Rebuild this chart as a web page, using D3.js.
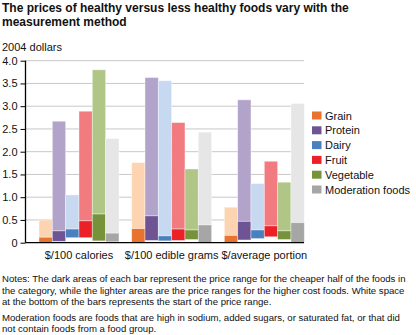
<!DOCTYPE html>
<html>
<head>
<meta charset="utf-8">
<script src="https://cdn.jsdelivr.net/npm/d3@7"></script>
<style>
  html, body { margin: 0; padding: 0; background: #fff; }
  svg { display: block; font-family: "Liberation Sans", Arial, Helvetica, sans-serif; }
</style>
</head>
<body>
<svg id="chart" width="416" height="335"></svg>
<script>
// Measurement methods (x groups) and food categories (bars within each group)
const methods = ["$/100 calories", "$/100 edible grams", "$/average portion"];
const categories = ["Grain", "Protein", "Dairy", "Fruit", "Vegetable", "Moderation foods"];

// Price range per category, one array per method, in category order (2004 dollars)
// start: lowest price; mid: top of cheaper half; max: highest price
const startCalories = [0.00, 0.03, 0.11, 0.11, 0.04, 0.02];
const midCalories   = [0.12, 0.26, 0.30, 0.48, 0.63, 0.21];
const maxCalories   = [0.50, 2.67, 1.05, 2.89, 3.80, 2.29];

const startGrams = [0.00, 0.05, 0.04, 0.05, 0.07, 0.00];
const midGrams   = [0.31, 0.59, 0.15, 0.30, 0.28, 0.39];
const maxGrams   = [1.76, 3.63, 3.56, 2.64, 1.62, 2.43];

const startPortion = [0.00, 0.06, 0.09, 0.13, 0.07, 0.00];
const midPortion   = [0.16, 0.47, 0.28, 0.37, 0.26, 0.44];
const maxPortion   = [0.78, 3.14, 1.30, 1.79, 1.33, 3.06];

const yTicks = [0, 0.5, 1.0, 1.5, 2.0, 2.5, 3.0, 3.5, 4.0];

const darkColors  = ["#E8732F", "#6E5495", "#4A80C0", "#EC2027", "#76923B", "#A6A6A6"];
const lightColors = ["#FDD4B1", "#B2A3CA", "#C6D9F0", "#F27B80", "#AFC686", "#E6E6E6"];

const ranges = [
  { start: startCalories, mid: midCalories, max: maxCalories },
  { start: startGrams,    mid: midGrams,    max: maxGrams },
  { start: startPortion,  mid: midPortion,  max: maxPortion }
];

const rows = [];
methods.forEach((m, gi) => {
  categories.forEach((c, ci) => {
    rows.push({ method: m, cat: c, ci,
      start: ranges[gi].start[ci], mid: ranges[gi].mid[ci], max: ranges[gi].max[ci] });
  });
});

const svg = d3.select("#chart");

// Title
const title = svg.append("text")
  .attr("font-size", 12).attr("font-weight", "bold").attr("fill", "#111");
title.append("tspan").attr("x", 2).attr("y", 12)
  .text("The prices of healthy versus less healthy foods vary with the");
title.append("tspan").attr("x", 2).attr("y", 26).text("measurement method");

svg.append("text").attr("x", 2).attr("y", 51)
  .attr("font-size", 11).attr("fill", "#111").text("2004 dollars");

// Scales
const axisLeft = 25.5, axisRight = 304;
const y = d3.scaleLinear().domain([0, 4]).range([242.7, 60.7]);
const x0 = d3.scaleBand().domain(methods).range([39, 304.3]).paddingInner(0.137).paddingOuter(0);
const x1 = d3.scaleBand().domain(categories).range([0, x0.bandwidth()]).padding(0);

// Gridlines
svg.append("g").selectAll("line").data(yTicks.filter(t => t > 0)).join("line")
  .attr("x1", axisLeft).attr("x2", axisRight)
  .attr("y1", d => y(d)).attr("y2", d => y(d))
  .attr("stroke", "#C8C8C8").attr("stroke-width", 1);

// Bars: light segment for the higher-cost half, dark segment for the cheaper half
const bars = svg.append("g").selectAll("g").data(rows).join("g")
  .attr("transform", d => `translate(${x0(d.method) + x1(d.cat)},0)`);

bars.append("rect")
  .attr("x", 0).attr("width", x1.bandwidth())
  .attr("y", d => y(d.max)).attr("height", d => y(d.mid) - y(d.max))
  .attr("fill", d => lightColors[d.ci])
  .attr("stroke", "#fff").attr("stroke-opacity", 0.5).attr("stroke-width", 0.8);

bars.append("rect")
  .attr("x", 0).attr("width", x1.bandwidth())
  .attr("y", d => y(d.mid)).attr("height", d => y(d.start) - y(d.mid))
  .attr("fill", d => darkColors[d.ci])
  .attr("stroke", "#fff").attr("stroke-opacity", 0.5).attr("stroke-width", 0.8);

// Y axis
const yAxis = d3.axisLeft(y).tickValues(yTicks)
  .tickFormat(d => d === 0 ? "0" : d3.format(".1f")(d))
  .tickSize(5).tickPadding(3);
const ya = svg.append("g").attr("transform", `translate(${axisLeft},0)`).call(yAxis);
ya.select(".domain").attr("d", `M0,${y(4)}V${y(0)}`).attr("stroke", "#000").attr("stroke-width", 1.3);
ya.selectAll(".tick line").attr("stroke", "#000");
ya.selectAll(".tick text").attr("font-size", 11).attr("fill", "#111")
  .attr("font-family", "'Liberation Sans', Arial, sans-serif");

// X baseline and group labels
svg.append("line").attr("x1", axisLeft).attr("x2", axisRight)
  .attr("y1", y(0)).attr("y2", y(0)).attr("stroke", "#000").attr("stroke-width", 1.3);

svg.append("g").selectAll("text").data(methods).join("text")
  .attr("x", d => x0(d) + x0.bandwidth() / 2).attr("y", 259)
  .attr("text-anchor", "middle").attr("font-size", 11).attr("fill", "#111")
  .text(d => d);

// Legend
const legend = svg.append("g").selectAll("g").data(categories).join("g")
  .attr("transform", (d, i) => `translate(312,${115.5 + i * 14.8})`);
legend.append("rect").attr("x", 0).attr("y", -4).attr("width", 9.5).attr("height", 8)
  .attr("fill", (d, i) => darkColors[i]);
legend.append("text").attr("x", 13).attr("y", 4)
  .attr("font-size", 11).attr("fill", "#111").text(d => d);

// Notes
const notes = [
  ["Notes: The dark areas of each bar represent the price range for the cheaper half of the foods in", 282],
  ["the category, while the lighter areas are the price ranges for the higher cost foods. White space", 293.5],
  ["at the bottom of the bars represents the start of the price range.", 305],
  ["Moderation foods are foods that are high in sodium, added sugars, or saturated fat, or that did", 320.5],
  ["not contain foods from a food group.", 332]
];
svg.append("g").selectAll("text").data(notes).join("text")
  .attr("x", 2).attr("y", d => d[1])
  .attr("font-size", 9.6).attr("fill", "#111").text(d => d[0]);
</script>
</body>
</html>
